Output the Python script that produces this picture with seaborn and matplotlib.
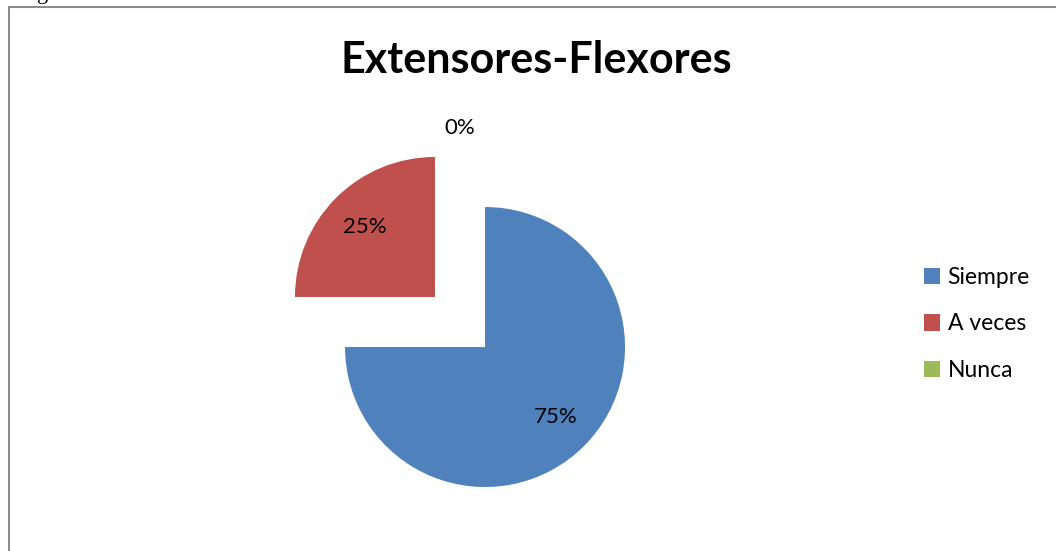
import matplotlib
matplotlib.use("Agg")
import matplotlib.pyplot as plt
import seaborn as sns
import numpy as np
from matplotlib.patches import Rectangle

sns.set_theme(style="white")
plt.rcParams["font.family"] = ["Lato", "DejaVu Sans"]
plt.rcParams["text.color"] = "black"

categories = ["Siempre", "A veces", "Nunca"]
values = [75, 25, 0]
colors = ["#4F81BD", "#C0504D", "#9BBB59"]
title = "Extensores-Flexores"

W, H = 1056, 551
fig = plt.figure(figsize=(W / 100, H / 100), dpi=100)
ax = fig.add_axes([0, 0, 1, 1])

radius = 140
center = (460, H - 322)
# explode is in data units (pixels here)
explode = [35.4] * len(values)

wedges, texts, autotexts = ax.pie(
    values, colors=colors, startangle=90, counterclock=False,
    radius=radius, center=center, explode=explode,
    autopct=lambda p: f"{p:.0f}%", pctdistance=0.71,
    textprops=dict(fontsize=16, color="black"),
    wedgeprops=dict(linewidth=0),
)

# zero-value slice: move its label outside the pie
for w, t, v, e in zip(wedges, autotexts, values, explode):
    if v == 0:
        ang = np.deg2rad((w.theta1 + w.theta2) / 2)
        d = e + radius * 1.135
        t.set_position((center[0] + d * np.cos(ang), center[1] + d * np.sin(ang)))

ax.set_xlim(0, W)
ax.set_ylim(0, H)
ax.set_aspect("equal")
ax.axis("off")

fig.text(536 / W, 1 - 60 / H, title, ha="center", va="center",
         fontsize=31, fontweight="bold", color="black")

leg = ax.legend(wedges, categories, loc="center left",
                bbox_to_anchor=(903 / W, 1 - 324 / H), frameon=False,
                fontsize=16.5, handlelength=0.7, handleheight=0.7,
                handletextpad=0.35, labelspacing=1.1)

# chart border
fig.patches.append(Rectangle((9 / W, -0.1), 1.2, 1 - 7 / H + 0.1,
                             transform=fig.transFigure, fill=False,
                             edgecolor="#8c8c8c", linewidth=1.5))
fig.text(37 / W, 1 + 1 / H, "g", family="Liberation Serif", fontsize=16,
         va="baseline", ha="left")

fig.savefig("out.png", dpi=100)
